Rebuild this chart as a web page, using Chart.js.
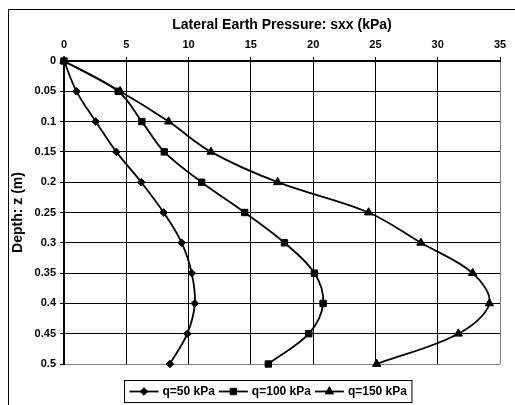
<!DOCTYPE html>
<html>
<head>
<meta charset="utf-8">
<script src="https://cdn.jsdelivr.net/npm/chart.js@4/dist/chart.umd.min.js"></script>
<style>
  html, body { margin: 0; padding: 0; background: #fff; }
  #wrap { width: 515px; height: 405px; }
</style>
</head>
<body>
<div id="wrap"><canvas id="chart" width="515" height="405"></canvas></div>
<script>
// depth below surface (m) and lateral pressure sxx (kPa) for each surcharge
const depths = [0, 0.05, 0.1, 0.15, 0.2, 0.25, 0.3, 0.35, 0.4, 0.45, 0.5];
const q50 = [0, 1.0, 2.55, 4.2, 6.2, 8.0, 9.45, 10.25, 10.5, 9.9, 8.5];
const q100 = [0, 4.35, 6.25, 8.05, 11.05, 14.5, 17.7, 20.1, 20.8, 19.65, 16.4];
const q150 = [0, 4.5, 8.4, 11.8, 17.15, 24.45, 28.65, 32.8, 34.15, 31.65, 25.1];
const seriesLabels = ['q=50 kPa', 'q=100 kPa', 'q=150 kPa'];
const pressureTicks = [0, 5, 10, 15, 20, 25, 30, 35];
const depthTickLabels = ['0', '0.05', '0.1', '0.15', '0.2', '0.25', '0.3', '0.35', '0.4', '0.45', '0.5'];

const FONT = 'Liberation Sans, Arial, sans-serif';
const markerRadius = { rectRot: 3.8, rect: 4.5, triangle: 4.8 };

function toPoints(values) {
    return values.map((v, i) => ({ x: v, y: depths[i] }));
}

function makeSet(label, values, style) {
    return {
        label: label,
        data: toPoints(values),
        showLine: true,
        borderColor: '#000',
        backgroundColor: '#000',
        borderWidth: 1.8,
        tension: 0.35,
        pointStyle: style,
        pointRadius: markerRadius[style],
        pointHoverRadius: markerRadius[style],
        pointBorderWidth: 1,
        clip: false
    };
}

// outer frame and the boxed legend at the bottom
const framePlugin = {
    id: 'frame',
    afterDraw(chart) {
        const ctx = chart.ctx;
        ctx.save();
        ctx.strokeStyle = '#000';
        ctx.lineWidth = 1;
        ctx.beginPath();
        ctx.moveTo(8.5, 405);
        ctx.lineTo(8.5, 9.5);
        ctx.lineTo(515, 9.5);
        ctx.stroke();

        // legend
        ctx.font = 'bold 12px ' + FONT;
        ctx.textBaseline = 'middle';
        const lineLen = 29, gap = 4, pad = 5;
        const items = chart.data.datasets.map(ds => ({ ds: ds, w: ctx.measureText(ds.label).width }));
        let total = pad;
        items.forEach(it => { total += lineLen + gap + it.w + gap; });
        total += pad - gap;
        const left = Math.round(268 - total / 2) + 0.5;
        const top = 380.5, h = 22;
        ctx.lineWidth = 1;
        ctx.strokeRect(left, top, total, h);
        const my = top + h / 2;
        let x = left + pad;
        items.forEach(it => {
            ctx.strokeStyle = '#000';
            ctx.lineWidth = 1.8;
            ctx.beginPath();
            ctx.moveTo(x, my);
            ctx.lineTo(x + lineLen, my);
            ctx.stroke();
            ctx.fillStyle = '#000';
            ctx.lineWidth = 1;
            Chart.helpers.drawPoint(ctx, {
                pointStyle: it.ds.pointStyle,
                radius: markerRadius[it.ds.pointStyle],
                rotation: 0,
                borderWidth: 1
            }, x + lineLen / 2, my);
            ctx.fillStyle = '#000';
            ctx.textAlign = 'left';
            ctx.fillText(it.ds.label, x + lineLen + gap, my + 0.5);
            x += lineLen + gap + it.w + gap;
        });
        ctx.restore();
    }
};

const ctx = document.getElementById('chart').getContext('2d');
new Chart(ctx, {
    type: 'scatter',
    data: {
        datasets: [
            makeSet(seriesLabels[0], q50, 'rectRot'),
            makeSet(seriesLabels[1], q100, 'rect'),
            makeSet(seriesLabels[2], q150, 'triangle')
        ]
    },
    options: {
        responsive: false,
        animation: false,
        layout: { padding: { left: 8, top: 12, right: 15, bottom: 41 } },
        plugins: {
            legend: { display: false },
            tooltip: { enabled: false }
        },
        scales: {
            x: {
                type: 'linear',
                position: 'top',
                min: 0,
                max: 35,
                afterBuildTicks: scale => { scale.ticks = pressureTicks.map(v => ({ value: v })); },
                afterFit: scale => { scale.height = 49; },
                title: {
                    display: true,
                    text: 'Lateral Earth Pressure: sxx (kPa)',
                    color: '#000',
                    font: { family: FONT, size: 14, weight: 'bold' },
                    padding: { top: 5, bottom: 0 }
                },
                ticks: {
                    color: '#000',
                    padding: 5,
                    maxRotation: 0,
                    font: { family: FONT, size: 11, weight: 'bold' }
                },
                grid: {
                    color: c => (c.tick && c.tick.value === 35 ? '#808080' : '#000'),
                    tickColor: '#000',
                    tickLength: 4,
                    lineWidth: 1
                },
                border: { display: true, color: '#000', width: 2 }
            },
            y: {
                type: 'linear',
                reverse: true,
                min: 0,
                max: 0.5,
                afterBuildTicks: scale => { scale.ticks = depths.map(v => ({ value: v })); },
                afterFit: scale => { scale.width = 56; },
                title: {
                    display: true,
                    text: 'Depth: z (m)',
                    color: '#000',
                    font: { family: FONT, size: 14, weight: 'bold' },
                    padding: { top: 2, bottom: 0 }
                },
                ticks: {
                    color: '#000',
                    padding: 4,
                    font: { family: FONT, size: 11, weight: 'bold' },
                    callback: (v, i) => depthTickLabels[i]
                },
                grid: {
                    color: c => (c.tick && c.tick.value === 0.5 ? '#808080' : '#000'),
                    tickColor: '#000',
                    tickLength: 4,
                    lineWidth: 1
                },
                border: { display: true, color: '#000', width: 2 }
            }
        }
    },
    plugins: [framePlugin]
});
</script>
</body>
</html>
